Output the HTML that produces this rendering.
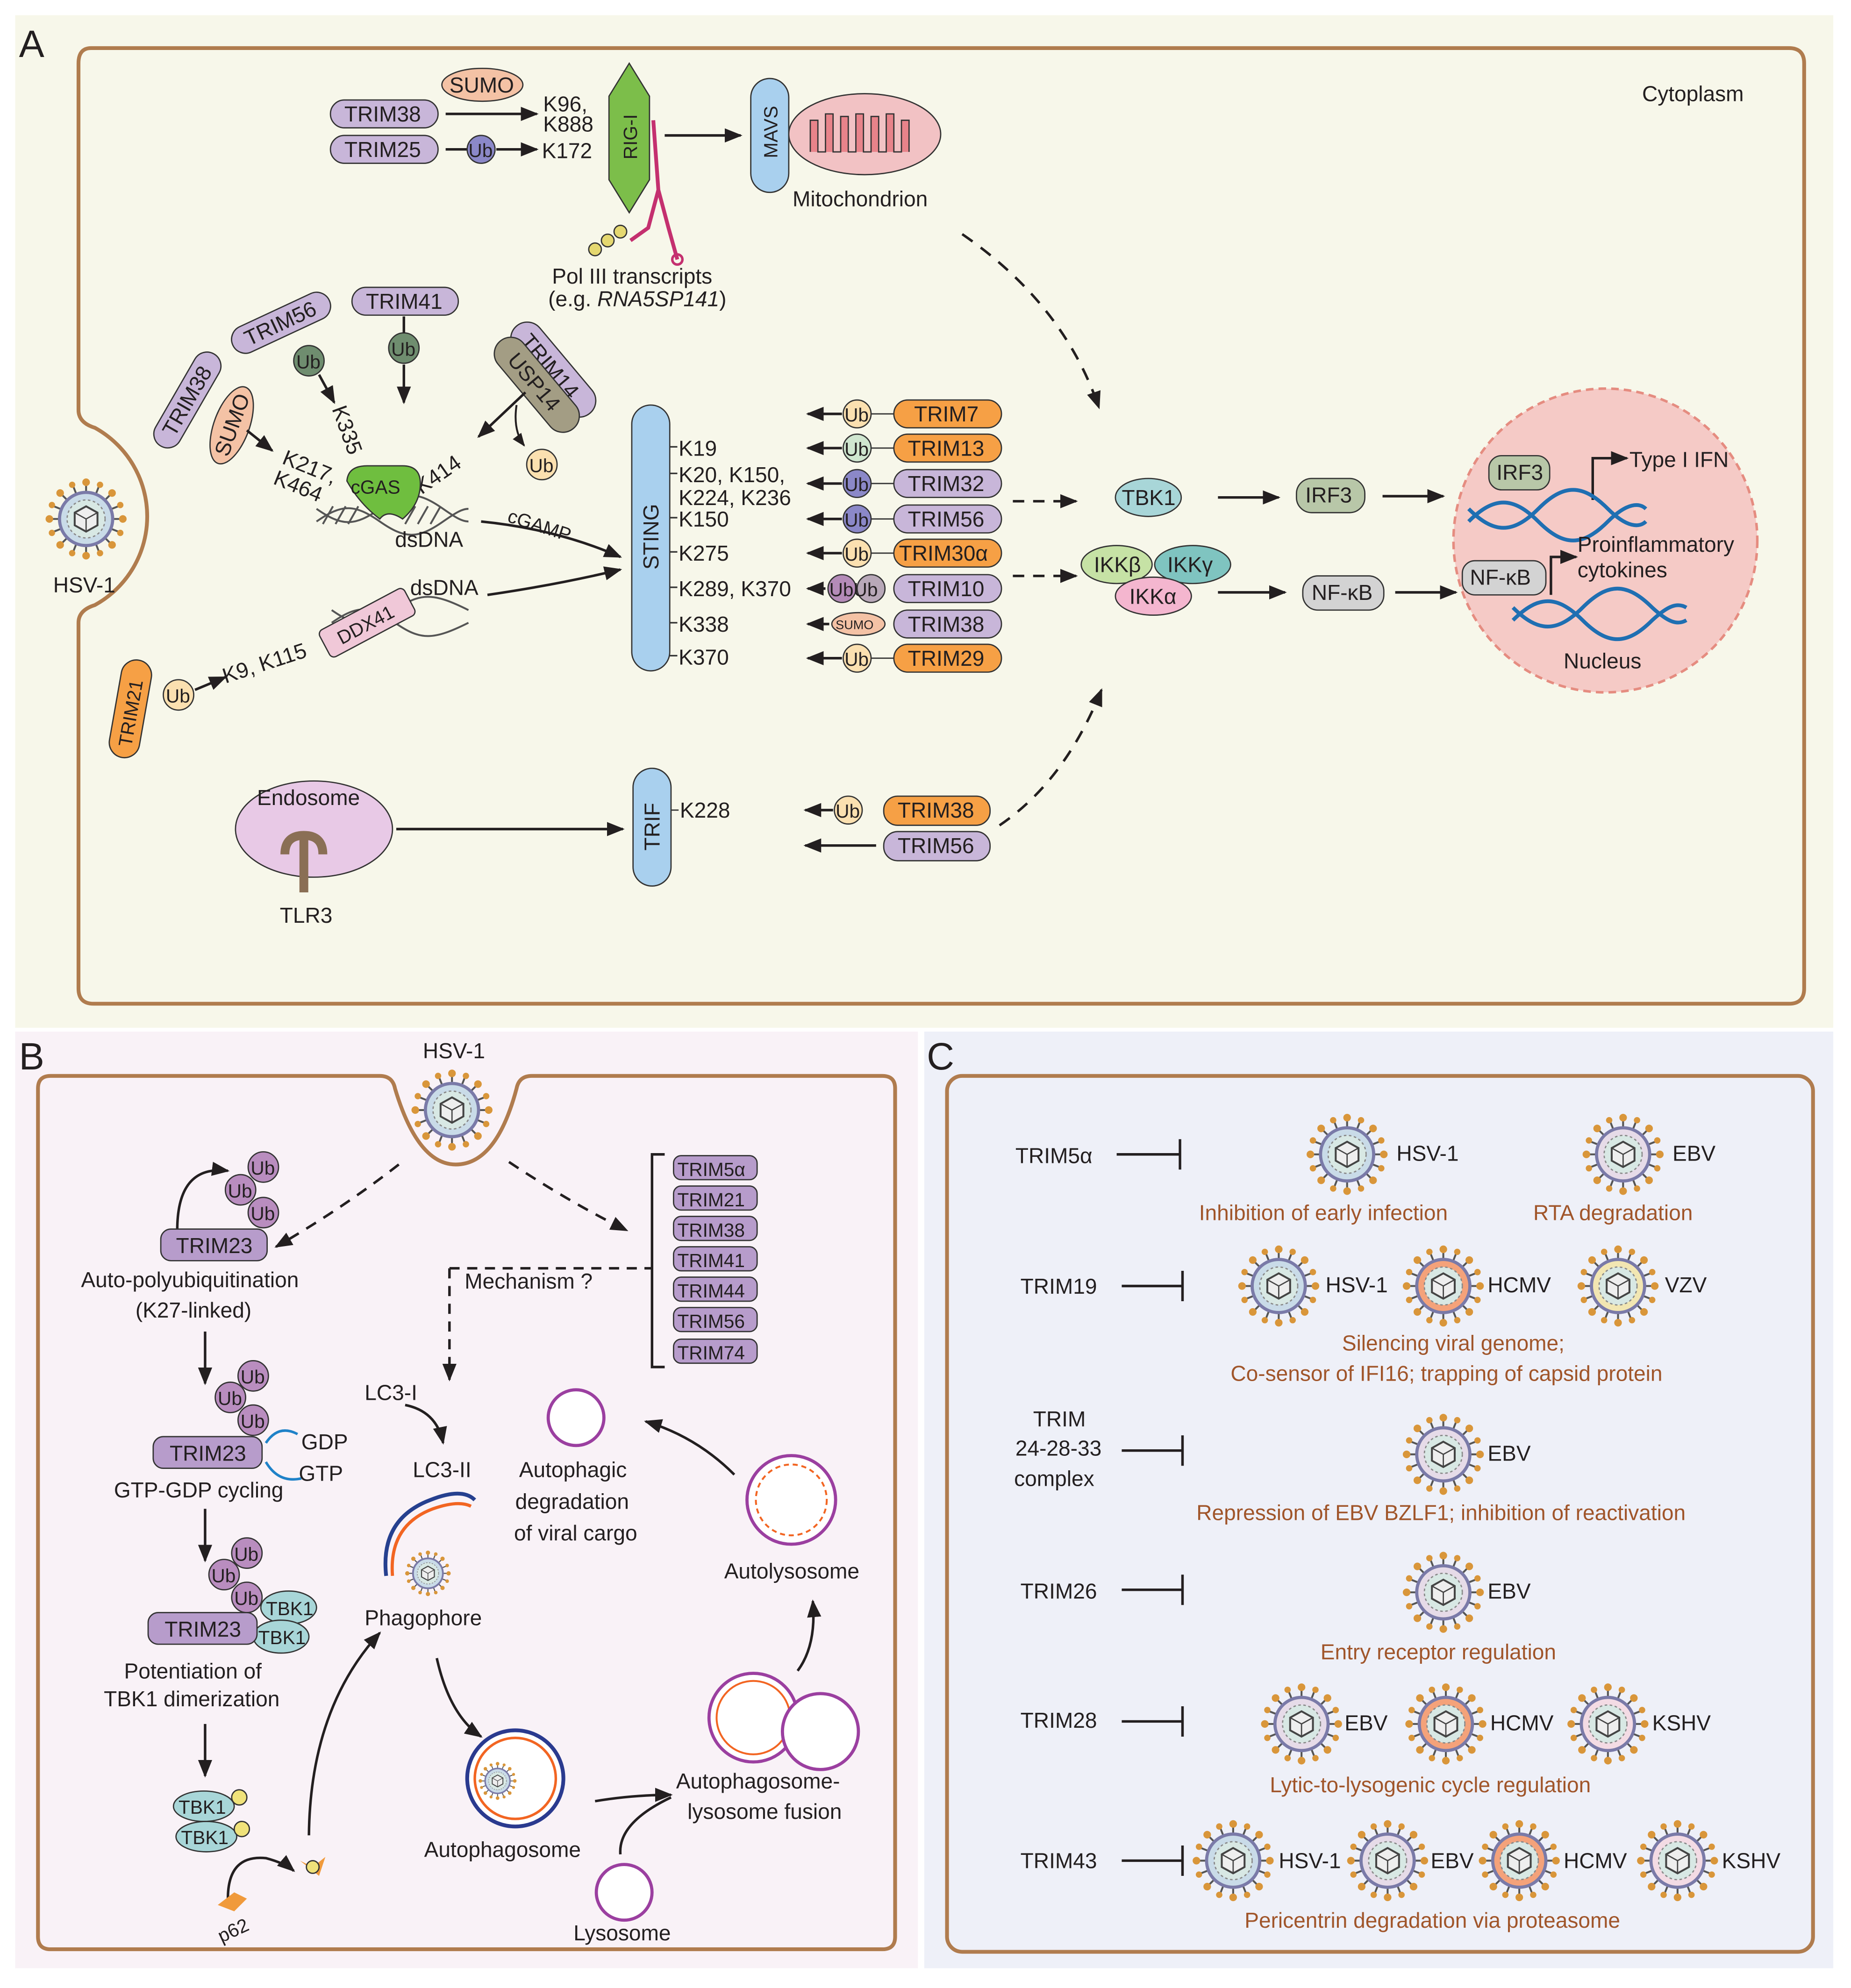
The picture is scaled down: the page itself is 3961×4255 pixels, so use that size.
<!DOCTYPE html>
<html><head><meta charset="utf-8"><style>
html,body{margin:0;padding:0;background:#fff}
svg{display:block}
text{font-family:"Liberation Sans",sans-serif;font-size:17px;fill:#231f20}
.s{font-size:15px}
.br{fill:#a0552a}
</style></head><body>
<svg width="3961" height="4255" viewBox="0 0 1462 1570.6" preserveAspectRatio="none" xmlns="http://www.w3.org/2000/svg">
<defs>
<marker id="ah" viewBox="0 0 10 10" refX="9" refY="5" markerWidth="7" markerHeight="7" orient="auto-start-reverse"><path d="M0,1 L10,5 L0,9 z" fill="#231f20"/></marker>
<symbol id="vir" viewBox="-32 -32 64 64" overflow="visible">
<g stroke="#555" stroke-width="1.5">
<line x1="0" y1="-30" x2="0" y2="30"/><line x1="-30" y1="0" x2="30" y2="0"/>
<line x1="-21" y1="-21" x2="21" y2="21"/><line x1="-21" y1="21" x2="21" y2="-21"/>
<line x1="-11" y1="-28" x2="11" y2="28"/><line x1="11" y1="-28" x2="-11" y2="28"/>
<line x1="-28" y1="-11" x2="28" y2="11"/><line x1="-28" y1="11" x2="28" y2="-11"/>
</g>
<g fill="#d9963a"><circle cx="0" cy="-29" r="3"/><circle cx="0" cy="29" r="3"/><circle cx="-29" cy="0" r="3"/><circle cx="29" cy="0" r="3"/><circle cx="-20.5" cy="-20.5" r="3"/><circle cx="20.5" cy="20.5" r="3"/><circle cx="-20.5" cy="20.5" r="3"/><circle cx="20.5" cy="-20.5" r="3"/><circle cx="-11" cy="-27" r="2.5"/><circle cx="11" cy="27" r="2.5"/><circle cx="11" cy="-27" r="2.5"/><circle cx="-11" cy="27" r="2.5"/><circle cx="-27" cy="-11" r="2.5"/><circle cx="27" cy="11" r="2.5"/><circle cx="-27" cy="11" r="2.5"/><circle cx="27" cy="-11" r="2.5"/></g>
<circle r="21" fill="currentColor" stroke="#7a7aa8" stroke-width="2.5"/>
<circle r="15" fill="#d8e8e4" stroke="#888" stroke-width="1" stroke-dasharray="2 2"/>
<polygon points="0,-10 9,-5 9,5 0,10 -9,5 -9,-5" fill="#eee" stroke="#444" stroke-width="1.5"/>
<path d="M-9,-5 L0,0 L9,-5 M0,0 L0,10" stroke="#444" fill="none" stroke-width="1"/>
</symbol>
</defs>

<!-- Panel backgrounds -->
<rect x="12" y="12" width="1436" height="800" fill="#f7f7ea"/>
<rect x="12" y="815" width="713" height="740" fill="#f9f2f7"/>
<rect x="730" y="815" width="718" height="740" fill="#eef0f8"/>
<text x="15" y="45" style="font-size:30px">A</text>
<text x="15" y="845" style="font-size:30px">B</text>
<text x="732" y="845" style="font-size:30px">C</text>

<!-- Panel A cell -->
<path d="M72,38 H1413 Q1425,38 1425,50 V781 Q1425,793 1413,793 H74 Q62,793 62,781 V492 Q62,482 75,478 A80,80 0 0 0 75,338 Q62,334 62,324 V50 Q62,38 72,38 Z" fill="none" stroke="#b07c4e" stroke-width="3"/>
<text x="1297" y="80">Cytoplasm</text>
<use href="#vir" x="36" y="378" width="64" height="64" color="#c9dbe8"/>
<text x="42" y="468">HSV-1</text>

<!-- RIG-I pathway -->
<ellipse cx="381" cy="67" rx="32" ry="13" fill="#f4c2a5" stroke="#333"/><text x="355" y="73">SUMO</text>
<rect x="261" y="79" width="85" height="22" rx="11" fill="#c8b6d9" stroke="#333"/><text x="272" y="96">TRIM38</text>
<rect x="261" y="107" width="85" height="22" rx="11" fill="#c8b6d9" stroke="#333"/><text x="272" y="124">TRIM25</text>
<line x1="352" y1="90" x2="424" y2="90" stroke="#231f20" stroke-width="2" marker-end="url(#ah)"/>
<line x1="352" y1="118" x2="370" y2="118" stroke="#231f20" stroke-width="2"/>
<circle cx="380" cy="118" r="11" fill="#8b88c8" stroke="#333"/><text x="370" y="124" class="s">Ub</text>
<line x1="392" y1="118" x2="424" y2="118" stroke="#231f20" stroke-width="2" marker-end="url(#ah)"/>
<text x="429" y="88">K96,</text><text x="429" y="104">K888</text><text x="428" y="125">K172</text>
<path d="M497,50 L513,76 L513,142 L497,168 L481,142 L481,76 Z" fill="#7cbe4a" stroke="#333"/>
<text transform="translate(503,126) rotate(-90)" class="s">RIG-I</text>
<path d="M516,95 L520,150 L512,180 L498,190 M520,150 L528,180 L535,205" stroke="#c4306f" stroke-width="3" fill="none"/>
<circle cx="535" cy="205" r="4" fill="none" stroke="#c4306f" stroke-width="2"/>
<circle cx="470" cy="197" r="5" fill="#e5d870" stroke="#333"/><circle cx="480" cy="190" r="5" fill="#e5d870" stroke="#333"/><circle cx="490" cy="183" r="5" fill="#e5d870" stroke="#333"/>
<line x1="525" y1="107" x2="585" y2="107" stroke="#231f20" stroke-width="2" marker-end="url(#ah)"/>
<rect x="593" y="62" width="30" height="90" rx="15" fill="#a9d0ee" stroke="#333"/>
<text transform="translate(614,125) rotate(-90)" class="s">MAVS</text>
<ellipse cx="683" cy="106" rx="60" ry="32" fill="#f2c2c4" stroke="#333"/>
<path d="M640,120 V95 h6 v25 h6 v-30 h6 v30 h6 v-28 h6 v28 h6 v-30 h6 v30 h6 v-28 h6 v28 h6 v-30 h6 v30 h6 v-25 h6 v25" fill="#e8838a" stroke="#333" stroke-width="1"/>
<text x="626" y="163">Mitochondrion</text>
<text x="436" y="224">Pol III transcripts</text>
<text x="433" y="242">(e.g. <tspan font-style="italic">RNA5SP141</tspan>)</text>
<path d="M760,185 Q840,240 868,322" stroke="#231f20" stroke-width="2" fill="none" stroke-dasharray="10 8" marker-end="url(#ah)"/>

<!-- cGAS area -->
<g transform="translate(222,255) rotate(-25)"><rect x="-42" y="-11" width="84" height="22" rx="11" fill="#c8b6d9" stroke="#333"/><text x="-31" y="6">TRIM56</text></g>
<rect x="278" y="227" width="84" height="22" rx="11" fill="#c8b6d9" stroke="#333"/><text x="289" y="244">TRIM41</text>
<circle cx="244" cy="285" r="12" fill="#6f8d6f" stroke="#333"/><text x="234" y="291" class="s">Ub</text>
<circle cx="319" cy="275" r="12" fill="#6f8d6f" stroke="#333"/><text x="309" y="281" class="s">Ub</text>
<line x1="319" y1="250" x2="319" y2="263" stroke="#231f20" stroke-width="2"/>
<line x1="319" y1="288" x2="319" y2="318" stroke="#231f20" stroke-width="2" marker-end="url(#ah)"/>
<line x1="252" y1="296" x2="264" y2="318" stroke="#231f20" stroke-width="2" marker-end="url(#ah)"/>
<text transform="translate(262,323) rotate(70)">K335</text>
<g transform="translate(148,316) rotate(-60)"><rect x="-42" y="-11" width="84" height="22" rx="11" fill="#c8b6d9" stroke="#333"/><text x="-31" y="6">TRIM38</text></g>
<g transform="translate(183,336) rotate(-70)"><ellipse rx="32" ry="14" fill="#f4c2a5" stroke="#333"/><text x="-25" y="6">SUMO</text></g>
<line x1="195" y1="340" x2="215" y2="356" stroke="#231f20" stroke-width="2" marker-end="url(#ah)"/>
<text transform="translate(222,366) rotate(22)">K217,</text>
<text transform="translate(215,382) rotate(22)">K464</text>
<g transform="translate(437,292) rotate(50)"><rect x="-45" y="-13" width="90" height="26" rx="13" fill="#c8b6d9" stroke="#333"/><text x="-34" y="6">TRIM14</text></g>
<g transform="translate(424,304) rotate(50)"><rect x="-45" y="-13" width="90" height="26" rx="13" fill="#a39d84" stroke="#333"/><text x="-30" y="6">USP14</text></g>
<line x1="415" y1="310" x2="378" y2="345" stroke="#231f20" stroke-width="2" marker-end="url(#ah)"/>
<path d="M408,320 Q405,340 414,352" stroke="#231f20" stroke-width="1.5" fill="none" marker-end="url(#ah)"/>
<circle cx="428" cy="367" r="12" fill="#fbe0b0" stroke="#333"/><text x="418" y="373" class="s">Ub</text>
<text transform="translate(333,391) rotate(-35)">K414</text>
<g stroke="#555" stroke-width="1.5" fill="none"><path d="M250,412 C270,398 280,398 300,412 C320,426 330,426 350,412 C360,405 365,402 370,402"/><path d="M250,402 C270,416 280,416 300,402 C320,388 330,388 350,402 C360,409 365,412 370,412"/><path d="M255,414 l8,-14 M265,414 l8,-14 M275,414 l8,-14 M320,414 l8,-14 M330,414 l8,-14 M340,414 l8,-14"/></g>
<path d="M274,380 Q275,368 290,368 H318 Q332,368 332,382 Q332,398 318,410 Q306,402 300,410 Q284,398 274,380 Z" fill="#6fbe3f" stroke="#333"/>
<text x="277" y="390" class="s">cGAS</text>
<text x="312" y="432">dsDNA</text>
<path d="M380,412 Q440,418 490,440" stroke="#231f20" stroke-width="2" fill="none" marker-end="url(#ah)"/>
<text transform="translate(400,412) rotate(18)" class="s">cGAMP</text>
<path d="M385,470 Q440,462 490,450" stroke="#231f20" stroke-width="2" fill="none" marker-end="url(#ah)"/>
<text x="324" y="470">dsDNA</text>
<g stroke="#555" stroke-width="1.5" fill="none"><path d="M262,492 C282,478 292,478 312,492 C332,506 342,506 370,492"/><path d="M262,482 C282,496 292,496 312,482 C332,468 342,468 370,482"/></g>
<g transform="translate(290,492) rotate(-28)"><rect x="-38" y="-12" width="76" height="24" rx="4" fill="#f0c8d8" stroke="#333"/><text x="-26" y="6" class="s">DDX41</text></g>
<text transform="translate(178,540) rotate(-18)">K9, K115</text>
<line x1="154" y1="545" x2="178" y2="535" stroke="#231f20" stroke-width="2" marker-end="url(#ah)"/>
<circle cx="141" cy="549" r="12" fill="#fbe0b0" stroke="#333"/><text x="131" y="555" class="s">Ub</text>
<g transform="translate(103,560) rotate(-80)"><rect x="-39" y="-12" width="78" height="24" rx="12" fill="#f6a045" stroke="#333"/><text x="-30" y="6" class="s">TRIM21</text></g>

<!-- STING -->
<rect x="499" y="320" width="30" height="210" rx="15" fill="#a9d0ee" stroke="#333"/>
<text transform="translate(520,450) rotate(-90)">STING</text>
<g stroke="#333" stroke-width="1.2"><line x1="529" y1="353" x2="535" y2="353"/><line x1="529" y1="374" x2="535" y2="374"/><line x1="529" y1="409" x2="535" y2="409"/><line x1="529" y1="436" x2="535" y2="436"/><line x1="529" y1="464" x2="535" y2="464"/><line x1="529" y1="492" x2="535" y2="492"/><line x1="529" y1="518" x2="535" y2="518"/></g>
<text x="536" y="360">K19</text><text x="536" y="381">K20, K150,</text><text x="536" y="399">K224, K236</text><text x="536" y="416">K150</text><text x="536" y="443">K275</text><text x="536" y="471">K289, K370</text><text x="536" y="499">K338</text><text x="536" y="525">K370</text>
<!-- right trims -->
<g>
<line x1="665" y1="327" x2="638" y2="327" stroke="#231f20" stroke-width="2" marker-end="url(#ah)"/><circle cx="677" cy="327" r="11" fill="#fbe0b0" stroke="#333"/><text x="667" y="333" class="s">Ub</text><line x1="688" y1="327" x2="706" y2="327" stroke="#333"/><rect x="706" y="316" width="85" height="22" rx="11" fill="#f6a045" stroke="#333"/><text x="722" y="333">TRIM7</text>
<line x1="665" y1="354" x2="638" y2="354" stroke="#231f20" stroke-width="2" marker-end="url(#ah)"/><circle cx="677" cy="354" r="11" fill="#cfe6cf" stroke="#333"/><text x="667" y="360" class="s">Ub</text><line x1="688" y1="354" x2="706" y2="354" stroke="#333"/><rect x="706" y="343" width="85" height="22" rx="11" fill="#f6a045" stroke="#333"/><text x="717" y="360">TRIM13</text>
<line x1="665" y1="382" x2="638" y2="382" stroke="#231f20" stroke-width="2" marker-end="url(#ah)"/><circle cx="677" cy="382" r="11" fill="#8b88c8" stroke="#333"/><text x="667" y="388" class="s">Ub</text><line x1="688" y1="382" x2="706" y2="382" stroke="#333"/><rect x="706" y="371" width="85" height="22" rx="11" fill="#c8b6d9" stroke="#333"/><text x="717" y="388">TRIM32</text>
<line x1="665" y1="410" x2="638" y2="410" stroke="#231f20" stroke-width="2" marker-end="url(#ah)"/><circle cx="677" cy="410" r="11" fill="#8b88c8" stroke="#333"/><text x="667" y="416" class="s">Ub</text><line x1="688" y1="410" x2="706" y2="410" stroke="#333"/><rect x="706" y="399" width="85" height="22" rx="11" fill="#c8b6d9" stroke="#333"/><text x="717" y="416">TRIM56</text>
<line x1="665" y1="437" x2="638" y2="437" stroke="#231f20" stroke-width="2" marker-end="url(#ah)"/><circle cx="677" cy="437" r="11" fill="#fbe0b0" stroke="#333"/><text x="667" y="443" class="s">Ub</text><line x1="688" y1="437" x2="706" y2="437" stroke="#333"/><rect x="706" y="426" width="85" height="22" rx="11" fill="#f6a045" stroke="#333"/><text x="710" y="443">TRIM30α</text>
<line x1="652" y1="465" x2="638" y2="465" stroke="#231f20" stroke-width="2" marker-end="url(#ah)"/><circle cx="665" cy="465" r="11" fill="#b48bb8" stroke="#333"/><circle cx="688" cy="465" r="11" fill="#b8a8b8" stroke="#333"/><text x="655" y="471" class="s">UbUb</text><rect x="706" y="454" width="85" height="22" rx="11" fill="#c8b6d9" stroke="#333"/><text x="717" y="471">TRIM10</text>
<line x1="655" y1="493" x2="638" y2="493" stroke="#231f20" stroke-width="2" marker-end="url(#ah)"/><ellipse cx="678" cy="493" rx="21" ry="9" fill="#f4c2a5" stroke="#333"/><text x="660" y="497" style="font-size:10px">SUMO</text><rect x="706" y="482" width="85" height="22" rx="11" fill="#c8b6d9" stroke="#333"/><text x="717" y="499">TRIM38</text>
<line x1="665" y1="520" x2="638" y2="520" stroke="#231f20" stroke-width="2" marker-end="url(#ah)"/><circle cx="677" cy="520" r="11" fill="#fbe0b0" stroke="#333"/><text x="667" y="526" class="s">Ub</text><line x1="688" y1="520" x2="706" y2="520" stroke="#333"/><rect x="706" y="509" width="85" height="22" rx="11" fill="#f6a045" stroke="#333"/><text x="717" y="526">TRIM29</text>
</g>
<line x1="800" y1="396" x2="850" y2="396" stroke="#231f20" stroke-width="2" stroke-dasharray="9 7" marker-end="url(#ah)"/>
<line x1="800" y1="455" x2="850" y2="455" stroke="#231f20" stroke-width="2" stroke-dasharray="9 7" marker-end="url(#ah)"/>
<ellipse cx="907" cy="393" rx="26" ry="15" fill="#a8d6d8" stroke="#333"/><text x="886" y="399">TBK1</text>
<ellipse cx="882" cy="446" rx="28" ry="15" fill="#c6e2a5" stroke="#333"/><text x="864" y="452">IKKβ</text>
<ellipse cx="942" cy="446" rx="30" ry="15" fill="#7fc4c0" stroke="#333"/><text x="922" y="452">IKKγ</text>
<ellipse cx="911" cy="471" rx="30" ry="15" fill="#f4b6cf" stroke="#333"/><text x="892" y="477">IKKα</text>
<line x1="962" y1="393" x2="1010" y2="393" stroke="#231f20" stroke-width="2" marker-end="url(#ah)"/>
<rect x="1024" y="378" width="54" height="27" rx="12" fill="#b8c7a8" stroke="#333"/><text x="1031" y="397">IRF3</text>
<line x1="1092" y1="392" x2="1140" y2="392" stroke="#231f20" stroke-width="2" marker-end="url(#ah)"/>
<line x1="962" y1="468" x2="1015" y2="468" stroke="#231f20" stroke-width="2" marker-end="url(#ah)"/>
<rect x="1029" y="455" width="64" height="27" rx="12" fill="#d3d3d3" stroke="#333"/><text x="1036" y="474">NF-κB</text>
<line x1="1102" y1="468" x2="1150" y2="468" stroke="#231f20" stroke-width="2" marker-end="url(#ah)"/>
<path d="M870,545 Q840,620 785,655" stroke="#231f20" stroke-width="2" fill="none" stroke-dasharray="10 8" marker-start="url(#ah)"/>
<circle cx="1268" cy="427" r="120" fill="#f5cac6" stroke="#e58c80" stroke-width="2" stroke-dasharray="6 4"/>
<rect x="1176" y="360" width="48" height="27" rx="10" fill="#b8c7a8" stroke="#333"/><text x="1182" y="379">IRF3</text>
<path d="M1258,395 V362 H1285" stroke="#231f20" stroke-width="2" fill="none" marker-end="url(#ah)"/>
<text x="1287" y="369">Type I IFN</text>
<g stroke="#1f6fb2" stroke-width="3" fill="none"><path d="M1160,412 C1180,392 1195,392 1215,412 C1235,432 1250,432 1270,412 C1285,397 1295,397 1300,402"/><path d="M1160,402 C1180,422 1195,422 1215,402 C1235,382 1250,382 1270,402 C1285,417 1295,417 1300,412"/></g>
<rect x="1155" y="443" width="66" height="27" rx="10" fill="#d3d3d3" stroke="#333"/><text x="1161" y="462">NF-κB</text>
<path d="M1225,470 V440 H1245" stroke="#231f20" stroke-width="2" fill="none" marker-end="url(#ah)"/>
<text x="1246" y="436">Proinflammatory</text><text x="1246" y="456">cytokines</text>
<g stroke="#1f6fb2" stroke-width="3" fill="none"><path d="M1195,490 C1215,470 1230,470 1250,490 C1270,510 1285,510 1305,490 C1318,478 1325,476 1332,480"/><path d="M1195,480 C1215,500 1230,500 1250,480 C1270,460 1285,460 1305,480 C1318,492 1325,494 1332,490"/></g>
<text x="1235" y="528">Nucleus</text>

<!-- Endosome / TRIF -->
<ellipse cx="248" cy="655" rx="62" ry="38" fill="#e8c9e6" stroke="#333"/>
<text x="203" y="636">Endosome</text>
<path d="M225,675 Q225,660 240,660 Q255,660 255,675 M240,660 V705" stroke="#8a6f55" stroke-width="7" fill="none"/>
<text x="221" y="729">TLR3</text>
<line x1="313" y1="655" x2="492" y2="655" stroke="#231f20" stroke-width="2" marker-end="url(#ah)"/>
<rect x="500" y="607" width="30" height="93" rx="15" fill="#a9d0ee" stroke="#333"/>
<text transform="translate(521,672) rotate(-90)">TRIF</text>
<line x1="530" y1="640" x2="536" y2="640" stroke="#333"/><text x="537" y="646">K228</text>
<line x1="658" y1="640" x2="636" y2="640" stroke="#231f20" stroke-width="2" marker-end="url(#ah)"/>
<circle cx="670" cy="640" r="11" fill="#fbe0b0" stroke="#333"/><text x="660" y="646" class="s">Ub</text>
<rect x="698" y="629" width="84" height="23" rx="11" fill="#f6a045" stroke="#333"/><text x="709" y="646">TRIM38</text>
<line x1="692" y1="668" x2="636" y2="668" stroke="#231f20" stroke-width="2" marker-end="url(#ah)"/>
<rect x="698" y="657" width="84" height="23" rx="11" fill="#c8b6d9" stroke="#333"/><text x="709" y="674">TRIM56</text>

<!-- Panel B -->
<path d="M40,850 H300 Q310,850 312,860 Q330,920 360,920 Q392,920 408,860 Q410,850 420,850 H697 Q707,850 707,860 V1530 Q707,1540 697,1540 H40 Q30,1540 30,1530 V860 Q30,850 40,850 Z" fill="none" stroke="#b07c4e" stroke-width="3"/>
<text x="334" y="836">HSV-1</text>
<use href="#vir" x="325" y="845" width="64" height="64" color="#c9dbe8"/>
<path d="M315,920 Q270,955 218,985" stroke="#231f20" stroke-width="2" fill="none" stroke-dasharray="9 7" marker-end="url(#ah)"/>
<path d="M402,918 Q450,950 495,972" stroke="#231f20" stroke-width="2" fill="none" stroke-dasharray="9 7" marker-end="url(#ah)"/>
<g fill="#b98dbf" stroke="#333"><circle cx="208" cy="922" r="12"/><circle cx="190" cy="940" r="12"/><circle cx="208" cy="958" r="12"/></g>
<text x="198" y="928" class="s">Ub</text><text x="180" y="946" class="s">Ub</text><text x="198" y="964" class="s">Ub</text>
<path d="M140,972 Q140,920 180,925" stroke="#231f20" stroke-width="2" fill="none" marker-end="url(#ah)"/>
<rect x="127" y="971" width="84" height="25" rx="8" fill="#b79ccb" stroke="#333"/><text x="139" y="990">TRIM23</text>
<text x="64" y="1017">Auto-polyubiquitination</text><text x="107" y="1041">(K27-linked)</text>
<line x1="162" y1="1052" x2="162" y2="1093" stroke="#231f20" stroke-width="2" marker-end="url(#ah)"/>
<g fill="#b98dbf" stroke="#333"><circle cx="200" cy="1087" r="12"/><circle cx="182" cy="1104" r="12"/><circle cx="200" cy="1122" r="12"/></g>
<text x="190" y="1093" class="s">Ub</text><text x="172" y="1110" class="s">Ub</text><text x="190" y="1128" class="s">Ub</text>
<rect x="121" y="1135" width="86" height="25" rx="8" fill="#b79ccb" stroke="#333"/><text x="134" y="1154">TRIM23</text>
<path d="M210,1140 Q220,1125 235,1133 M210,1155 Q220,1172 238,1168" stroke="#1f82c8" stroke-width="2" fill="none"/>
<text x="238" y="1145">GDP</text><text x="236" y="1170">GTP</text>
<text x="90" y="1183">GTP-GDP cycling</text>
<line x1="162" y1="1192" x2="162" y2="1233" stroke="#231f20" stroke-width="2" marker-end="url(#ah)"/>
<g fill="#b98dbf" stroke="#333"><circle cx="195" cy="1227" r="12"/><circle cx="177" cy="1244" r="12"/><circle cx="195" cy="1262" r="12"/></g>
<text x="185" y="1233" class="s">Ub</text><text x="167" y="1250" class="s">Ub</text><text x="185" y="1268" class="s">Ub</text>
<ellipse cx="228" cy="1270" rx="22" ry="13" fill="#a8d6d8" stroke="#333"/><text x="210" y="1276" class="s">TBK1</text>
<ellipse cx="222" cy="1293" rx="22" ry="13" fill="#a8d6d8" stroke="#333"/><text x="204" y="1299" class="s">TBK1</text>
<rect x="117" y="1274" width="86" height="25" rx="8" fill="#b79ccb" stroke="#333"/><text x="130" y="1293">TRIM23</text>
<text x="98" y="1326">Potentiation of</text><text x="82" y="1348">TBK1 dimerization</text>
<line x1="162" y1="1362" x2="162" y2="1403" stroke="#231f20" stroke-width="2" marker-end="url(#ah)"/>
<ellipse cx="161" cy="1427" rx="24" ry="12" fill="#a8d6d8" stroke="#333"/><text x="141" y="1433" class="s">TBK1</text>
<ellipse cx="163" cy="1451" rx="24" ry="12" fill="#a8d6d8" stroke="#333"/><text x="143" y="1457" class="s">TBK1</text>
<circle cx="189" cy="1420" r="6" fill="#f0e27a" stroke="#333"/><circle cx="191" cy="1445" r="6" fill="#f0e27a" stroke="#333"/>
<path d="M180,1500 Q180,1465 210,1468 Q225,1472 232,1478" stroke="#231f20" stroke-width="2" fill="none" marker-end="url(#ah)"/>
<path d="M172,1505 L185,1495 L195,1500 L185,1510 Z" fill="#f09a3c"/><text transform="translate(175,1535) rotate(-25)" class="s">p62</text>
<path d="M237,1470 l10,5 l10,-8 l-5,15 z" fill="#f09a3c"/><circle cx="247" cy="1475" r="5" fill="#f0e27a" stroke="#333"/>
<path d="M244,1450 Q245,1350 300,1290" stroke="#231f20" stroke-width="2" fill="none" marker-end="url(#ah)"/>
<text x="288" y="1284">Phagophore</text>
<path d="M305,1245 Q300,1200 340,1185 Q365,1175 375,1185" stroke="#26408f" stroke-width="3" fill="none"/>
<path d="M310,1245 Q307,1205 342,1192 Q362,1185 372,1190" stroke="#f26522" stroke-width="2.5" fill="none"/>
<use href="#vir" x="320" y="1225" width="36" height="36" color="#c9dbe8"/>
<text x="288" y="1106">LC3-I</text><text x="326" y="1167">LC3-II</text>
<path d="M320,1110 Q345,1115 350,1140" stroke="#231f20" stroke-width="2" fill="none" marker-end="url(#ah)"/>
<path d="M355,1002 V1090" stroke="#231f20" stroke-width="2" stroke-dasharray="8 6" fill="none" marker-end="url(#ah)"/>
<path d="M355,1002 H515" stroke="#231f20" stroke-width="2" stroke-dasharray="8 6" fill="none"/>
<text x="367" y="1018">Mechanism ?</text>
<path d="M525,912 H515 V1080 H525" stroke="#231f20" stroke-width="2" fill="none"/>
<g font-size="15">
<rect x="532" y="913" width="66" height="19" rx="6" fill="#b79ccb" stroke="#333"/><text x="535" y="929" class="s">TRIM5α</text>
<rect x="532" y="937" width="66" height="19" rx="6" fill="#b79ccb" stroke="#333"/><text x="535" y="953" class="s">TRIM21</text>
<rect x="532" y="961" width="66" height="19" rx="6" fill="#b79ccb" stroke="#333"/><text x="535" y="977" class="s">TRIM38</text>
<rect x="532" y="985" width="66" height="19" rx="6" fill="#b79ccb" stroke="#333"/><text x="535" y="1001" class="s">TRIM41</text>
<rect x="532" y="1009" width="66" height="19" rx="6" fill="#b79ccb" stroke="#333"/><text x="535" y="1025" class="s">TRIM44</text>
<rect x="532" y="1033" width="66" height="19" rx="6" fill="#b79ccb" stroke="#333"/><text x="535" y="1049" class="s">TRIM56</text>
<rect x="532" y="1058" width="66" height="19" rx="6" fill="#b79ccb" stroke="#333"/><text x="535" y="1074" class="s">TRIM74</text>
</g>
<circle cx="455" cy="1120" r="22" fill="#fff" stroke="#9b3fa0" stroke-width="2.5"/>
<text x="410" y="1167">Autophagic</text><text x="407" y="1192">degradation</text><text x="406" y="1217">of viral cargo</text>
<path d="M580,1165 Q550,1135 510,1123" stroke="#231f20" stroke-width="2" fill="none" marker-end="url(#ah)"/>
<circle cx="625" cy="1185" r="35" fill="#fff" stroke="#9b3fa0" stroke-width="2.5"/>
<circle cx="625" cy="1185" r="28" fill="none" stroke="#f26522" stroke-width="1.5" stroke-dasharray="4 3"/>
<text x="572" y="1247">Autolysosome</text>
<path d="M345,1310 Q355,1355 380,1372" stroke="#231f20" stroke-width="2" fill="none" marker-end="url(#ah)"/>
<circle cx="407" cy="1405" r="38" fill="#fff" stroke="#2a3a8f" stroke-width="3"/>
<circle cx="407" cy="1405" r="32" fill="none" stroke="#f26522" stroke-width="2"/>
<use href="#vir" x="378" y="1392" width="30" height="30" color="#c9dbe8"/>
<text x="335" y="1467">Autophagosome</text>
<circle cx="493" cy="1495" r="22" fill="#fff" stroke="#9b3fa0" stroke-width="2.5"/>
<text x="453" y="1533">Lysosome</text>
<path d="M490,1465 Q488,1440 530,1420 M470,1423 Q500,1418 530,1418" stroke="#231f20" stroke-width="2" fill="none" marker-end="url(#ah)"/>
<circle cx="595" cy="1357" r="35" fill="#fff" stroke="#9b3fa0" stroke-width="2.5"/>
<circle cx="595" cy="1357" r="29" fill="none" stroke="#f26522" stroke-width="1.5"/>
<circle cx="648" cy="1368" r="30" fill="#fff" stroke="#9b3fa0" stroke-width="2.5"/>
<text x="534" y="1413">Autophagosome-</text><text x="543" y="1437">lysosome fusion</text>
<path d="M630,1320 Q645,1300 642,1265" stroke="#231f20" stroke-width="2" fill="none" marker-end="url(#ah)"/>

<!-- Panel C -->
<rect x="748" y="850" width="684" height="692" rx="12" fill="none" stroke="#b07c4e" stroke-width="3"/>
<g stroke="#231f20" stroke-width="2">
<line x1="882" y1="912" x2="932" y2="912"/><line x1="932" y1="900" x2="932" y2="924"/>
<line x1="886" y1="1016" x2="934" y2="1016"/><line x1="934" y1="1004" x2="934" y2="1028"/>
<line x1="886" y1="1146" x2="934" y2="1146"/><line x1="934" y1="1134" x2="934" y2="1158"/>
<line x1="886" y1="1256" x2="934" y2="1256"/><line x1="934" y1="1244" x2="934" y2="1268"/>
<line x1="886" y1="1360" x2="934" y2="1360"/><line x1="934" y1="1348" x2="934" y2="1372"/>
<line x1="886" y1="1470" x2="934" y2="1470"/><line x1="934" y1="1458" x2="934" y2="1482"/>
</g>
<text x="802" y="919">TRIM5α</text>
<text x="806" y="1022">TRIM19</text>
<text x="816" y="1127">TRIM</text><text x="802" y="1150">24-28-33</text><text x="801" y="1174">complex</text>
<text x="806" y="1263">TRIM26</text>
<text x="806" y="1365">TRIM28</text>
<text x="806" y="1476">TRIM43</text>
<use href="#vir" x="1032" y="880" width="64" height="64" color="#c9dbe8"/><text x="1103" y="917">HSV-1</text>
<use href="#vir" x="1250" y="880" width="64" height="64" color="#e6dbe8"/><text x="1321" y="917">EBV</text>
<text x="947" y="964" class="br">Inhibition of early infection</text><text x="1211" y="964" class="br">RTA degradation</text>
<use href="#vir" x="978" y="984" width="64" height="64" color="#c9dbe8"/><text x="1047" y="1021">HSV-1</text>
<use href="#vir" x="1108" y="984" width="64" height="64" color="#f4a27a"/><text x="1175" y="1021">HCMV</text>
<use href="#vir" x="1246" y="984" width="64" height="64" color="#f2e6b2"/><text x="1315" y="1021">VZV</text>
<text x="1060" y="1067" class="br">Silencing viral genome;</text>
<text x="972" y="1091" class="br">Co-sensor of IFI16; trapping of capsid protein</text>
<use href="#vir" x="1108" y="1117" width="64" height="64" color="#e6dbe8"/><text x="1175" y="1154">EBV</text>
<text x="945" y="1201" class="br">Repression of EBV BZLF1; inhibition of reactivation</text>
<use href="#vir" x="1108" y="1226" width="64" height="64" color="#e6dbe8"/><text x="1175" y="1263">EBV</text>
<text x="1043" y="1311" class="br">Entry receptor regulation</text>
<use href="#vir" x="996" y="1330" width="64" height="64" color="#e6dbe8"/><text x="1062" y="1367">EBV</text>
<use href="#vir" x="1110" y="1330" width="64" height="64" color="#f4a27a"/><text x="1177" y="1367">HCMV</text>
<use href="#vir" x="1238" y="1330" width="64" height="64" color="#f3dbe4"/><text x="1305" y="1367">KSHV</text>
<text x="1003" y="1416" class="br">Lytic-to-lysogenic cycle regulation</text>
<use href="#vir" x="942" y="1438" width="64" height="64" color="#c9dbe8"/><text x="1010" y="1476">HSV-1</text>
<use href="#vir" x="1064" y="1438" width="64" height="64" color="#e6dbe8"/><text x="1130" y="1476">EBV</text>
<use href="#vir" x="1168" y="1438" width="64" height="64" color="#f4a27a"/><text x="1235" y="1476">HCMV</text>
<use href="#vir" x="1293" y="1438" width="64" height="64" color="#f3dbe4"/><text x="1360" y="1476">KSHV</text>
<text x="983" y="1523" class="br">Pericentrin degradation via proteasome</text>
</svg>
</body></html>
